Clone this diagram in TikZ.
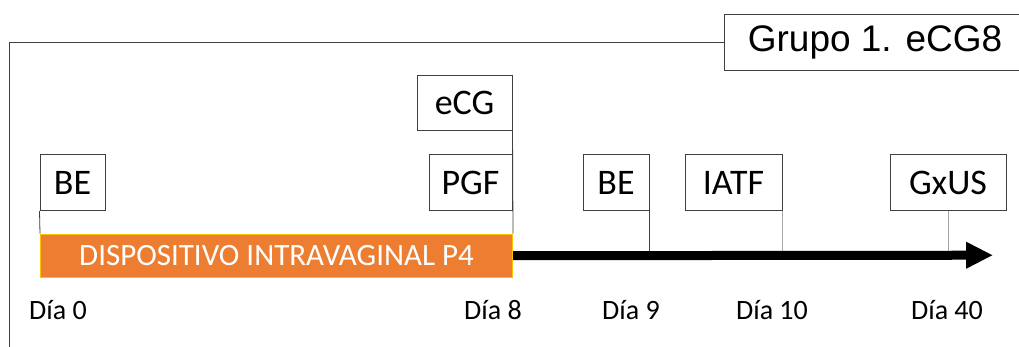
\documentclass[tikz,border=0pt]{standalone}
\usepackage{fontspec}
\setmainfont{Carlito}
\newfontfamily\arialfont{Liberation Sans}
\usepackage{tikz}
\usetikzlibrary{positioning}
\usetikzlibrary{arrows.meta}
\definecolor{barorange}{HTML}{ED7D31}
\definecolor{baredge}{HTML}{FFC000}
\definecolor{linegray}{HTML}{404040}
\definecolor{tickgray}{HTML}{A6A6A6}

\begin{document}
\begin{tikzpicture}[x=1pt,y=-1pt,
  box/.style={draw=linegray, line width=1pt, minimum height=56pt, inner sep=0pt,
    font=\fontsize{36}{40}\selectfont},
  day/.style={font=\fontsize{28}{32}\selectfont},
  tick/.style={draw=linegray, line width=0.8pt},
  ticklight/.style={draw=tickgray, line width=0.8pt}]

\useasboundingbox (0,0) rectangle (1019,346);

% group frame and title
\node[box, minimum width=301pt, anchor=west, font=\arialfont\fontsize{37}{42}\selectfont]
  (grupo) at (724,42.7) {Grupo 1. eCG8};
\draw[linegray, line width=1pt] (9.5,360) -- (9.5,42.7) -- (grupo.west);

% device bar
\node[fill=barorange, draw=baredge, line width=1pt, minimum width=472pt, minimum height=43pt,
  inner sep=0pt, anchor=north west, text=white, font=\fontsize{31}{34}\selectfont]
  (bar) at (40,233.7) {DISPOSITIVO INTRAVAGINAL P4};
\coordinate (tend) at (993,255.2);

% treatments
\node[box, minimum width=65pt] (be0) at (72.5,182.5) {BE};
\node[box, minimum width=95pt, minimum height=55pt] (ecg) at (464.5,102.5) {eCG};
\node[box, minimum width=83pt] (pgf) at (470.5,182.5) {PGF};
\node[box, minimum width=66pt] (be9) at (616,182.5) {BE};
\node[box, minimum width=97pt] (iatf) at (733.5,182.5) {IATF};
\node[box, minimum width=116pt] (gxus) at (948,182.5) {GxUS};

\draw[tick] (be0.south west) -- (bar.north west);
\draw[tick] (ecg.south east) -- (bar.north east);
\draw[tick] (be9.south east) -- (be9.south east |- tend);
\draw[ticklight] (iatf.south east) -- (iatf.south east |- tend);
\draw[ticklight] (gxus.south) -- (gxus.south |- tend);

% time line
\draw[line width=9pt, -{Triangle[length=27pt,width=25pt]}] (bar.east) -- (tend);

\foreach \d/\x in {0/58, 8/493, 9/631, 10/772, 40/947}
  \node[day] (dia\d) at (\x,310) {Día \d};

\end{tikzpicture}
\end{document}
